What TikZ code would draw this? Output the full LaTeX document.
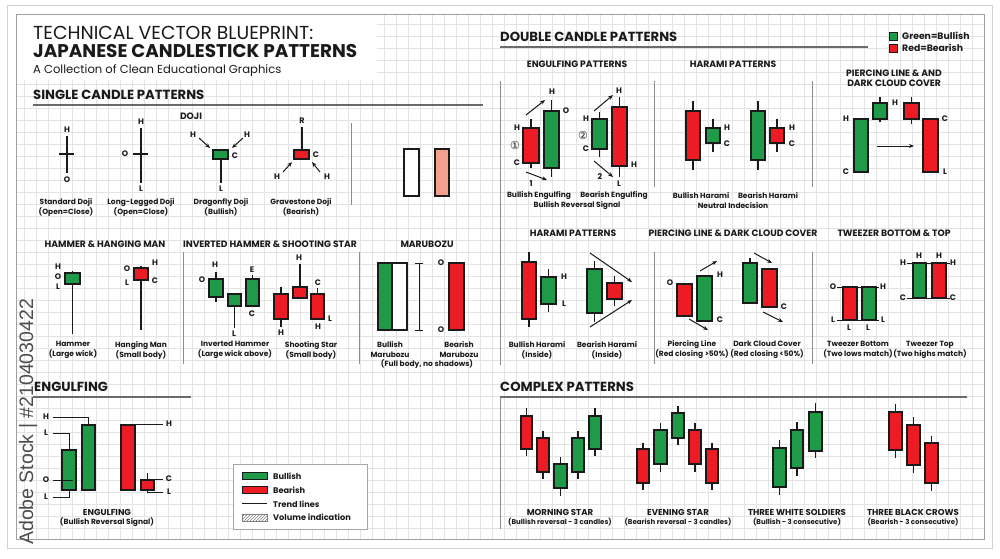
\documentclass[tikz,border=0pt]{standalone}
\usepackage{fontspec}
\setmainfont{Poppins}
\newfontfamily\dejavu{DejaVu Sans}
\newfontfamily\wmfont{Liberation Sans}
\usetikzlibrary{arrows.meta,patterns}
\definecolor{bullg}{HTML}{1E9A48}
\definecolor{bearr}{HTML}{EC1C24}
\definecolor{ink}{HTML}{1A1A1A}
\definecolor{salmon}{HTML}{F5A08C}
\definecolor{gridc}{HTML}{E4E4E4}
\definecolor{rulec}{HTML}{6A6A6A}
\definecolor{sepc}{HTML}{8C8C8C}
\newcommand\cndl[7]{%
  \draw[wick] ({(#2+#3)/2},#4) -- ({(#2+#3)/2},#7);
  \draw[#1] (#2,#5) rectangle (#3,#6);}
\newcommand\lab[4]{\node[lt] (#1) at (#2,#3) {#4};}
\tikzset{
  bull/.style={draw=ink, fill=bullg, line width=1.1pt},
  bear/.style={draw=ink, fill=bearr, line width=1.1pt},
  plainbox/.style={draw=ink, line width=1.1pt},
  wick/.style={draw=ink, line width=1.3pt},
  thinline/.style={draw=ink, line width=0.7pt},
  arr/.style={draw=ink, line width=1pt, -{Stealth[length=5pt,width=4pt]}},
  lt/.style={font=\bfseries\fontsize{8}{8}\selectfont, inner sep=0, text=ink},
  circ/.style={font=\dejavu\fontsize{11}{11}\selectfont, inner sep=0, text=ink},
  ccap/.style={font=\bfseries\fontsize{7.5}{10}\selectfont, align=center, inner sep=0, text=ink},
  ccaps/.style={font=\bfseries\fontsize{7}{8}\selectfont, inner sep=0, text=ink},
  capu/.style={font=\bfseries\fontsize{8.6}{9}\selectfont, inner sep=0, text=ink},
  subh/.style={font=\bfseries\fontsize{9.2}{10}\selectfont, align=center, inner sep=0, text=ink},
  head/.style={font=\bfseries\fontsize{13.2}{14}\selectfont, anchor=base west, inner sep=0, text=ink},
  legt/.style={font=\bfseries\fontsize{8.2}{9}\selectfont, anchor=west, inner sep=0, text=ink},
  toplegt/.style={font=\bfseries\fontsize{9.3}{10}\selectfont, anchor=west, inner sep=0, text=ink},
  rulel/.style={draw=rulec, line width=1.2pt},
  sepl/.style={draw=sepc, line width=0.8pt},
}
\begin{document}
\begin{tikzpicture}[x=1pt,y=-1pt]
\useasboundingbox (0,0) rectangle (1000,558);
\fill[white] (0,0) rectangle (1000,558);
\begin{scope}
  \clip (16,14) rectangle (984,539);
  \draw[gridc, line width=0.5pt, step=12pt] (16,14) grid (984,539);
\end{scope}
\fill[white] (17,15) rectangle (377,80);
\draw[gray!35, line width=0.8pt] (7,5) rectangle (992,548);
\draw[gray!75, line width=1pt] (16,14) rectangle (984,539);
\node[rotate=90, anchor=base west, inner sep=0, font=\wmfont\fontsize{19.5}{20}\selectfont, text=black!70] (wm) at (33,545) {Adobe Stock | \#2104030422};

% ---------- title ----------
\node[anchor=base west, inner sep=0, font=\fontsize{18.8}{19}\selectfont, text=ink] (ttl1) at (33,39) {TECHNICAL VECTOR BLUEPRINT:};
\node[anchor=base west, inner sep=0, font=\bfseries\fontsize{18.4}{19}\selectfont, text=ink] (ttl2) at (33,57) {JAPANESE CANDLESTICK PATTERNS};
\node[anchor=base west, inner sep=0, font=\fontsize{11.6}{12}\selectfont, text=ink] (ttl3) at (33,73) {A Collection of Clean Educational Graphics};

% ---------- single candle ----------
\node[head] (hsingle) at (33,99) {SINGLE CANDLE PATTERNS};
\draw[rulel] (33,105) -- (483,105);
\node[subh] (sdoji) at (191,116) {DOJI};
% standard doji
\draw[wick] (67,136) -- (67,173);
\draw[wick] (59,154) -- (74,154);
\lab{sdH}{67}{130}{H}\lab{sdO}{67}{180}{O}
% long legged
\draw[wick] (141,128) -- (141,183);
\draw[wick] (133,154) -- (148,154);
\lab{llH}{141}{122}{H}\lab{llL}{141}{189}{L}\lab{llO}{125}{154}{O}
% dragonfly
\draw[wick] (221,159) -- (221,183);
\draw[bull] (213,150) rectangle (228,159);
\lab{dfC}{235}{156}{C}\lab{dfL}{221}{189}{L}\lab{dfH1}{193}{135}{H}\lab{dfH2}{247}{135}{H}
\draw[arr] (199,138) -- (210,148);
\draw[arr] (243,138) -- (232,148);
% gravestone
\draw[wick] (302,127) -- (302,150);
\draw[bear] (294,150) rectangle (309,159);
\lab{gsR}{302}{121}{R}\lab{gsC}{316}{155}{C}\lab{gsH1}{277}{177}{H}\lab{gsH2}{327}{177}{H}
\draw[arr] (283,172) -- (292,162);
\draw[arr] (320,172) -- (312,162);
\node[ccap] (csd) at (66,207) {Standard Doji\\(Open=Close)};
\node[ccap] (cll) at (141,207) {Long-Legged Doji\\(Open=Close)};
\node[ccap] (cdf) at (221,207) {Dragonfly Doji\\(Bullish)};
\node[ccap] (cgs) at (301,207) {Gravestone Doji\\(Bearish)};
\draw[sepl] (351,123) -- (351,205);
\draw[plainbox, fill=white] (404,149) rectangle (419,196);
\draw[plainbox, fill=salmon] (435,149) rectangle (449,196);

% ---------- hammer etc ----------
\node[subh] (shh) at (105,244) {HAMMER \& HANGING MAN};
\node[subh] (sih) at (270,244) {INVERTED HAMMER \& SHOOTING STAR};
\node[subh] (smb) at (427,244) {MARUBOZU};
\draw[sepl] (183,252) -- (183,364);
\draw[sepl] (359,252) -- (359,364);
\cndl{bull}{65}{80}{271}{273}{284}{334}
\lab{hmH}{58}{267}{H}\lab{hmO}{58}{277}{O}\lab{hmL}{58}{287}{L}
\cndl{bear}{134}{148}{266}{268}{280}{330}
\lab{hgO}{127}{269}{O}\lab{hgL}{127}{283}{L}\lab{hgH}{155}{263}{H}\lab{hgC}{155}{281}{C}
\cndl{bull}{209}{223}{272}{279}{297}{302}
\lab{ih1O}{202}{280}{O}\lab{ih1H}{215}{265}{H}
\cndl{bull}{228}{241}{294}{294}{306}{328}
\lab{ih2L}{234}{334}{L}
\cndl{bull}{246}{259}{275}{279}{306}{306}
\lab{ih3E}{252}{270}{E}\lab{ih3C}{252}{314}{C}
\cndl{bear}{274}{288}{287}{294}{319}{327}
\lab{ss1H}{281}{333}{H}
\cndl{bear}{293}{307}{264}{287}{298}{298}
\lab{ss2H}{299}{258}{H}
\cndl{bear}{311}{324}{288}{294}{319}{319}
\lab{ss3C}{318}{283}{C}\lab{ss3H}{318}{327}{H}\lab{ss3L}{330}{319}{L}
\node[ccap] (chm) at (73,350) {Hammer\\(Large wick)};
\node[ccap] (chg) at (141,350) {Hanging Man\\(Small body)};
\node[ccap] (cih) at (235,350) {Inverted Hammer\\(Large wick above)};
\node[ccap] (css) at (311,350) {Shooting Star\\(Small body)};
% marubozu
\draw[bull] (378,263) rectangle (392,330);
\draw[plainbox, fill=white] (392,263) rectangle (407,330);
\draw[thinline, line width=1pt] (419,263) -- (419,330);
\draw[thinline, line width=1pt] (415,263) -- (423,263);
\draw[thinline, line width=1pt] (415,330) -- (423,330);
\lab{mbO1}{441}{263}{O}\lab{mbO2}{441}{330}{O}
\draw[bear] (449,263) rectangle (464,330);
\node[ccap] (cmb1) at (390,350) {Bullish\\Marubozu};
\node[ccap] (cmb2) at (459,350) {Bearish\\Marubozu};
\node[ccap] (cmb3) at (427,364) {(Full body, no shadows)};

% ---------- engulfing (bottom left) ----------
\node[head] (heng) at (34,391) {ENGULFING};
\draw[rulel] (33,397) -- (191,397);
\draw[bull] (62,450) rectangle (76,490);
\draw[bull] (82,425) rectangle (95,490);
\draw[bear] (121,425) rectangle (135,490);
\cndl{bear}{141}{154}{473}{480}{490}{490}
\lab{egH}{46}{417}{H}\lab{egL1}{46}{433}{L}\lab{egO}{46}{480}{O}\lab{egL2}{46}{497}{L}
\draw[thinline] (53,417) -- (88,417) -- (88,425);
\draw[thinline] (53,433) -- (69,433) -- (69,450);
\draw[thinline] (53,480) -- (73,480);
\draw[thinline] (53,497) -- (69,497) -- (69,490);
\lab{egH2}{169}{424}{H}\lab{egC}{169}{479}{C}\lab{egL3}{169}{492}{L}
\draw[thinline] (128,424) -- (163,424);
\draw[thinline] (154,479) -- (163,479);
\draw[thinline] (147,490) -- (147,492) -- (163,492);
\node[capu] (ceng1) at (107,512) {ENGULFING};
\node[ccap] (ceng2) at (107,522) {(Bullish Reversal Signal)};
% legend
\draw[draw=gray!70, fill=white, line width=0.8pt] (233,464) rectangle (367,529);
\draw[bull, line width=0.8pt] (242,472) rectangle (267,479);
\node[legt] (lg1) at (273,476) {Bullish};
\draw[bear, line width=0.8pt] (242,486) rectangle (267,493);
\node[legt] (lg2) at (273,490) {Bearish};
\draw[thinline] (242,503) -- (267,503);
\node[legt] (lg3) at (273,504) {Trend lines};
\draw[draw=gray, pattern=north east lines, pattern color=gray, line width=0.6pt] (242,514) rectangle (267,521);
\node[legt] (lg4) at (273,517) {Volume indication};

% ---------- double candle ----------
\node[head] (hdouble) at (500,41) {DOUBLE CANDLE PATTERNS};
\draw[rulel] (500,47) -- (868,47);
\draw[bull, line width=0.8pt] (889,32) rectangle (897,40);
\node[toplegt] (lgg) at (902,36) {Green=Bullish};
\draw[bear, line width=0.8pt] (889,44) rectangle (897,52);
\node[toplegt] (lgr) at (902,48) {Red=Bearish};
\node[subh] (seng) at (577,64) {ENGULFING PATTERNS};
\node[subh] (shar) at (733,64) {HARAMI PATTERNS};
\node[subh] (spl) at (894,78) {PIERCING LINE \& AND\\DARK CLOUD COVER};
\draw[sepl] (500,81) -- (500,365);
\draw[sepl] (654,81) -- (654,187);
\draw[sepl] (812,81) -- (812,187);
% bullish engulfing
\cndl{bear}{523}{539}{119}{128}{163}{168}
\cndl{bull}{544}{559}{100}{111}{168}{177}
\lab{be1H}{517}{128}{H}\node[circ] (be1n) at (515,145) {①};
\lab{be1C}{517}{163}{C}\lab{be1one}{531}{184}{1}\lab{be1O}{566}{111}{O}\lab{be1H2}{552}{92}{H}
\draw[arr] (526,115) -- (545,100);
\draw[arr] (526,172) -- (547,180);
% bearish engulfing
\cndl{bull}{592}{607}{112}{119}{149}{157}
\cndl{bear}{612}{627}{97}{107}{166}{177}
\lab{be2H}{586}{119}{H}\node[circ] (be2n) at (583,135) {②};
\lab{be2C}{586}{149}{C}\lab{be2two}{600}{177}{2}\lab{be2L}{619}{184}{L}\lab{be2H2}{634}{165}{H}\lab{be2H3}{619}{91}{H}
\draw[arr] (594,111) -- (613,95);
\draw[arr] (594,161) -- (613,177);
\node[ccap] (cbe1) at (539,196) {Bullish Engulfing};
\node[ccap] (cbe2) at (614,196) {Bearish Engulfing};
\node[ccap] (cbe3) at (577,206) {Bullish Reversal Signal};
% harami
\cndl{bear}{686}{700}{101}{111}{160}{170}
\cndl{bull}{706}{720}{119}{128}{143}{152}
\lab{ha1H}{727}{128}{H}\lab{ha1C}{727}{144}{C}
\cndl{bull}{751}{765}{101}{111}{160}{170}
\cndl{bear}{770}{784}{119}{128}{143}{152}
\lab{ha2H}{792}{128}{H}\lab{ha2C}{792}{144}{C}
\node[ccap] (cha1) at (701,196) {Bullish Harami};
\node[ccap] (cha2) at (768,196) {Bearish Harami};
\node[ccap] (cha3) at (733,206) {Neutral Indecision};
% piercing / dark cloud (top)
\draw[bull] (854,119) rectangle (868,172);
\lab{pdH}{846}{119}{H}\lab{pdC}{846}{172}{C}
\cndl{bull}{873}{887}{97}{103}{119}{122}
\lab{pdH2}{895}{103}{H}
\cndl{bear}{904}{919}{97}{103}{119}{124}
\draw[bear] (923,119) rectangle (938,172);
\lab{pdC2}{945}{119}{C}\lab{pdL}{945}{172}{L}
\draw[arr] (877,146) -- (914,146);

% second row
\node[subh] (shar2) at (573,233) {HARAMI PATTERNS};
\node[subh] (spl2) at (733,233) {PIERCING LINE \& DARK CLOUD COVER};
\node[subh] (stw) at (894,233) {TWEEZER BOTTOM \& TOP};
\draw[sepl] (654,252) -- (654,364);
\draw[sepl] (812,252) -- (812,364);
\cndl{bear}{522}{536}{252}{262}{319}{327}
\cndl{bull}{541}{556}{269}{277}{304}{312}
\lab{bhH}{564}{277}{H}\lab{bhL}{564}{304}{L}
\cndl{bull}{587}{602}{261}{269}{313}{322}
\cndl{bear}{607}{622}{276}{283}{299}{306}
\draw[arr] (590,253) -- (632,282);
\draw[arr] (590,327) -- (632,300);
\node[ccap] (cbh1) at (537,350) {Bullish Harami\\(Inside)};
\node[ccap] (cbh2) at (607,350) {Bearish Harami\\(Inside)};
\draw[bear] (677,284) rectangle (692,316);
\lab{plO}{670}{283}{O}
\draw[bull] (697,276) rectangle (712,321);
\lab{plH}{720}{275}{H}\lab{plC}{720}{320}{C}
\draw[arr] (700,271) -- (717,261);
\draw[arr] (689,319) -- (708,330);
\cndl{bull}{743}{757}{258}{263}{303}{303}
\draw[bear] (762,269) rectangle (777,307);
\lab{dcC}{784}{307}{C}
\draw[arr] (754,253) -- (772,263);
\draw[arr] (763,312) -- (783,322);
\node[ccap] (cpl) at (692,350) {Piercing Line\\(Red closing >50\%)};
\node[ccap] (cdc) at (767,350) {Dark Cloud Cover\\(Red closing <50\%)};
% tweezer bottom
\draw[bear] (843,287) rectangle (857,320);
\draw[bull] (862,287) rectangle (876,320);
\draw[thinline, line width=1pt] (837,287) -- (879,287);
\draw[thinline, line width=1pt] (837,320) -- (879,320);
\lab{tbO}{833}{287}{O}\lab{tbH}{883}{287}{H}\lab{tbL1}{833}{320}{L}\lab{tbL2}{883}{320}{L}
\lab{tbL3}{849}{328}{L}\lab{tbL4}{868}{328}{L}
% tweezer top
\draw[bull] (913,263) rectangle (926,298);
\draw[bear] (932,263) rectangle (946,298);
\draw[thinline, line width=1pt] (907,263) -- (950,263);
\draw[thinline, line width=1pt] (907,298) -- (950,298);
\lab{ttH1}{903}{263}{H}\lab{ttH2}{953}{263}{H}\lab{ttH3}{919}{256}{H}\lab{ttH4}{939}{256}{H}
\lab{ttC1}{903}{298}{C}\lab{ttC2}{953}{298}{C}
\node[ccap] (ctb) at (858,350) {Tweezer Bottom\\(Two lows match)};
\node[ccap] (ctt) at (930,350) {Tweezer Top\\(Two highs match)};

% ---------- complex ----------
\node[head] (hcomplex) at (500,391) {COMPLEX PATTERNS};
\draw[rulel] (500,397) -- (967,397);
\draw[sepl] (500,397) -- (500,529);
% morning star
\cndl{bear}{521}{532}{408}{416}{449}{456}
\cndl{bear}{537}{549}{431}{438}{472}{479}
\cndl{bull}{554}{567}{457}{464}{488}{496}
\cndl{bull}{572}{584}{431}{438}{472}{479}
\cndl{bull}{589}{601}{408}{416}{449}{456}
% evening star
\cndl{bear}{637}{649}{443}{449}{483}{490}
\cndl{bull}{654}{667}{423}{430}{464}{472}
\cndl{bull}{672}{684}{406}{413}{438}{445}
\cndl{bear}{689}{701}{423}{430}{464}{472}
\cndl{bear}{706}{718}{443}{449}{483}{490}
% three white soldiers
\cndl{bull}{773}{786}{440}{448}{487}{495}
\cndl{bull}{791}{803}{422}{430}{468}{476}
\cndl{bull}{809}{822}{403}{412}{451}{458}
% three black crows
\cndl{bear}{889}{902}{404}{412}{450}{458}
\cndl{bear}{907}{920}{417}{425}{465}{473}
\cndl{bear}{925}{938}{436}{443}{483}{491}
\node[capu] (cms1) at (560,512) {MORNING STAR};
\node[ccaps] (cms2) at (560,522) {(Bullish reversal - 3 candles)};
\node[capu] (ces1) at (678,512) {EVENING STAR};
\node[ccaps] (ces2) at (678,522) {(Bearish reversal - 3 candles)};
\node[capu] (cws1) at (797,512) {THREE WHITE SOLDIERS};
\node[ccaps] (cws2) at (797,522) {(Bullish - 3 consecutive)};
\node[capu] (cbc1) at (913,512) {THREE BLACK CROWS};
\node[ccaps] (cbc2) at (913,522) {(Bearish - 3 consecutive)};
\end{tikzpicture}
\end{document}
